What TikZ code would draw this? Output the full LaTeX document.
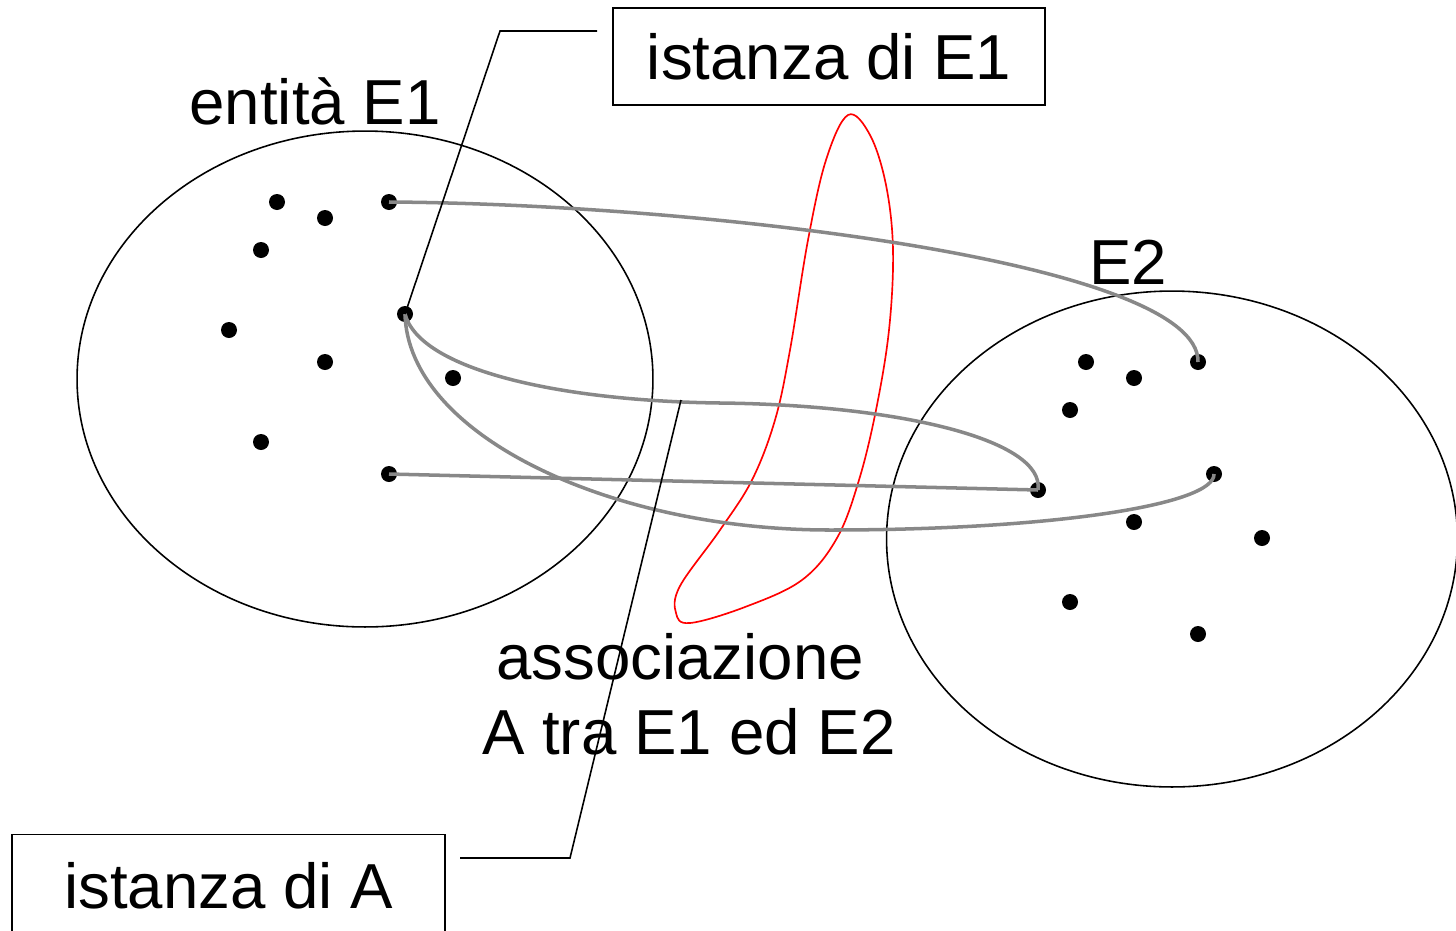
\documentclass[tikz,border=0pt]{standalone}
\usepackage{fontspec}
\setmainfont{Liberation Sans}
\usetikzlibrary{shapes.geometric}
\begin{document}
\begin{tikzpicture}[x=0.02cm,y=-0.02cm,
  dot/.style={circle,fill=black,inner sep=0pt,minimum size=0.32cm},
  setshape/.style={ellipse,draw=black,line width=0.9pt,inner sep=0pt},
  lbl/.style={inner sep=0pt,font=\fontsize{36.2}{43}\selectfont},
  boxlbl/.style={draw=black,line width=0.9pt,inner sep=0pt,font=\fontsize{36.2}{43}\selectfont},
  link/.style={line width=2pt,color={rgb,255:red,136;green,136;blue,136}},
  pointer/.style={draw=black,line width=0.9pt},
  assoc/.style={draw=red,line width=0.95pt}]
\useasboundingbox (0,0) rectangle (1456,930);
% sets
\node[setshape,minimum width=11.52cm,minimum height=9.92cm] (E1set) at (365,379) {};
\node[setshape,minimum width=11.42cm,minimum height=9.92cm] (E2set) at (1172,539) {};
% dots of E1
\node[dot] (a1) at (277,202) {};
\node[dot] (a2) at (325,218) {};
\node[dot] (a3) at (389,202) {};
\node[dot] (a4) at (261,250) {};
\node[dot] (a5) at (229,330) {};
\node[dot] (a6) at (405,314) {};
\node[dot] (a7) at (325,362) {};
\node[dot] (a8) at (453,378) {};
\node[dot] (a9) at (261,442) {};
\node[dot] (a10) at (389,474) {};
% dots of E2
\node[dot] (b1) at (1086,362) {};
\node[dot] (b2) at (1134,378) {};
\node[dot] (b3) at (1198,362) {};
\node[dot] (b4) at (1070,410) {};
\node[dot] (b5) at (1038,490) {};
\node[dot] (b6) at (1214,474) {};
\node[dot] (b7) at (1134,522) {};
\node[dot] (b8) at (1262,538) {};
\node[dot] (b9) at (1070,602) {};
\node[dot] (b10) at (1198,634) {};
% red association region
\draw[assoc] plot[smooth cycle,tension=0.6] coordinates {
 (848,115) (870,135) (886,185) (893,250) (889,330) (876,410) (859,480)
 (837,538) (802,580) (745,607) (690,623) (676,613) (680,586) (720,530)
 (752,480) (775,420) (790,350) (808,240) (826,160)};
% links (instances of A)
\draw[link] (a3.center) .. controls (700,204) and (1200,262) .. (b3.center);
\draw[link] (a6.center) .. controls (420,370) and (560,401) .. (720,403)
            .. controls (900,405) and (1045,440) .. (b5.center);
\draw[link] (a10.center) -- (b5.center);
\draw[link] (a6.center) .. controls (408,435) and (610,530) .. (830,530)
            .. controls (1050,530) and (1215,505) .. (b6.center);
% labels
\node[lbl] (lE1) at (315,101) {entità E1};
\node[lbl] (lE2) at (1128,262) {E2};
\node[lbl] (lassoc1) at (680,657) {associazione};
\node[lbl] (lassoc2) at (689,732) {A tra E1 ed E2};
% boxes
\node[boxlbl,minimum width=8.64cm,minimum height=1.94cm] (boxE1) at (829,56.5) {istanza di E1};
\node[boxlbl,minimum width=8.66cm,minimum height=2.06cm] (boxA) at (228.5,886) {istanza di A};
% pointers
\coordinate (pE1) at (597,31);
\coordinate (kE1) at (500,31);
\draw[pointer] (pE1) -- (kE1) -- (a6.center);
\coordinate (pA) at (460,858);
\coordinate (kA) at (570,858);
\coordinate (tA) at (681,400);
\draw[pointer] (pA) -- (kA) -- (tA);
\end{tikzpicture}
\end{document}
